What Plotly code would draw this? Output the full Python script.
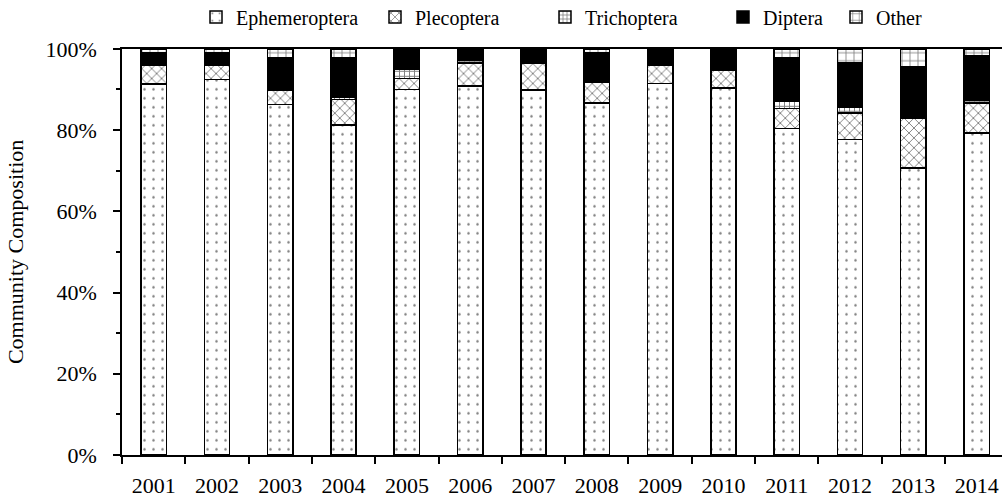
import plotly.graph_objects as go

years = ["2001", "2002", "2003", "2004", "2005", "2006", "2007",
         "2008", "2009", "2010", "2011", "2012", "2013", "2014"]
ephemeroptera = [91.3, 92.4, 86.3, 81.2, 90.0, 90.8, 89.8, 86.7, 91.4, 90.4, 80.4, 77.7, 70.6, 79.3]
plecoptera = [4.6, 3.5, 3.4, 6.3, 2.7, 5.7, 6.7, 5.1, 4.5, 4.2, 4.9, 6.5, 12.4, 7.4]
trichoptera = [0.0, 0.0, 0.0, 0.6, 2.2, 0.6, 0.0, 0.5, 0.0, 0.4, 1.8, 1.3, 0.4, 0.6]
diptera = [3.1, 3.1, 8.0, 9.6, 5.1, 2.9, 3.5, 6.8, 4.1, 4.4, 10.6, 11.0, 12.3, 11.1]
other = [1.0, 1.0, 2.3, 2.3, 0.0, 0.0, 0.0, 0.9, 0.0, 0.6, 2.3, 3.5, 4.3, 1.6]
y_tick_values = [0, 20, 40, 60, 80, 100]
y_tick_labels = ["0%", "20%", "40%", "60%", "80%", "100%"]

series = [
    ("Ephemeroptera", ephemeroptera, dict(shape=".", size=9, solidity=0.06)),
    ("Plecoptera", plecoptera, dict(shape="x", size=7, solidity=0.25)),
    ("Trichoptera", trichoptera, dict(shape="+", size=5, solidity=0.35)),
    ("Diptera", diptera, None),
    ("Other", other, dict(shape="+", size=8, solidity=0.2)),
]
legend_text_x = [234, 413, 583, 761, 874]
FONT = "Liberation Serif, Times New Roman, serif"

fig = go.Figure()
for i, (name, vals, pat) in enumerate(series):
    lg = "legend" if i == 0 else f"legend{i+1}"
    if pat is None:
        marker = dict(color="black", line=dict(color="black", width=1.5))
    else:
        marker = dict(color="white", line=dict(color="black", width=1.5),
                      pattern=dict(fgcolor="black", bgcolor="white", fillmode="overlay", **pat))
    fig.add_trace(go.Bar(x=years, y=vals, name=name, marker=marker, width=0.4,
                         legend=lg, showlegend=True))

layout_legends = {}
for i, tx in enumerate(legend_text_x):
    key = "legend" if i == 0 else f"legend{i+1}"
    layout_legends[key] = dict(
        x=(tx - 38) / 1002, y=1 - 17 / 499, xref="container", yref="container",
        xanchor="left", yanchor="middle", orientation="h",
        font=dict(family=FONT, size=20, color="black"), bgcolor="rgba(0,0,0,0)",
        itemwidth=30,
    )

fig.update_layout(
    barmode="stack",
    showlegend=True,
    width=1002, height=499,
    margin=dict(l=122, r=0, t=47, b=44),
    paper_bgcolor="white", plot_bgcolor="white",
    font=dict(family=FONT, size=22, color="black"),
    xaxis=dict(
        type="category", range=[-0.5, 13.4], showline=True, linecolor="black", linewidth=1.5,
        mirror=True, ticks="outside", ticklen=7, tickcolor="black", tickwidth=1.5,
        tickson="boundaries", showgrid=False, ticklabelstandoff=10,
        tickfont=dict(family=FONT, size=22, color="black"),
    ),
    yaxis=dict(
        range=[0, 100], tickmode="array", tickvals=y_tick_values, ticktext=y_tick_labels,
        showline=True, linecolor="black", linewidth=1.5, ticks="outside", ticklen=7,
        tickcolor="black", tickwidth=1.5, showgrid=False, zeroline=False,
        minor=dict(dtick=10, ticks="outside", ticklen=4, tickcolor="black", tickwidth=1.5),
        ticklabelstandoff=12,
        tickfont=dict(family=FONT, size=22, color="black"),
        title=dict(text="Community Composition", standoff=16,
                   font=dict(family=FONT, size=22, color="black")),
    ),
    **layout_legends,
)

fig.write_html("out.html", config={"displayModeBar": False},
               post_script="document.body.style.margin='0';document.body.style.padding='0';")
